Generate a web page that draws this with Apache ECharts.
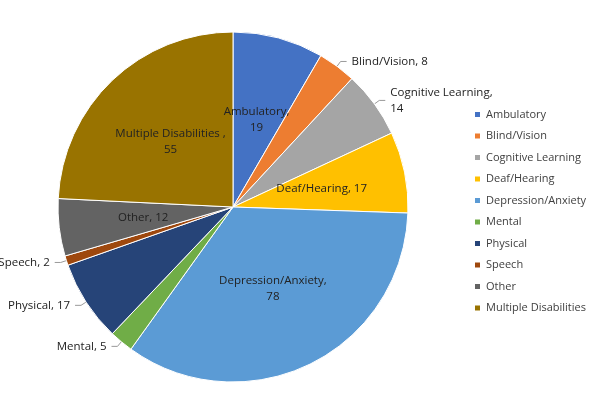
<!DOCTYPE html>
<html><head><meta charset="utf-8">
<script src="https://cdn.jsdelivr.net/npm/echarts@6/dist/echarts.min.js"></script>
<style>html,body{margin:0;padding:0;background:#fff}#c{width:600px;height:415px}</style>
</head><body><div id="c"></div>
<script>
const categories=['Ambulatory','Blind/Vision','Cognitive Learning','Deaf/Hearing','Depression/Anxiety','Mental','Physical','Speech','Other','Multiple Disabilities'];
const values=[19,8,14,17,78,5,17,2,12,55];
const labelTexts=['Ambulatory,\n19','Blind/Vision, 8','Cognitive Learning,\n14','Deaf/Hearing, 17','Depression/Anxiety,\n78','Mental, 5','Physical, 17','Speech, 2','Other, 12','Multiple Disabilities ,\n55'];
const colors=['#4472C4','#ED7D31','#A5A5A5','#FFC000','#5B9BD5','#70AD47','#264478','#9E480E','#636363','#997300'];
const outside=[1,2,5,6,7];
const data=categories.map((n,i)=>({name:n,value:values[i],itemStyle:{color:colors[i]},
    label:{formatter:labelTexts[i],position:outside.includes(i)?'outside':'inside'}}));
const chart=echarts.init(document.getElementById('c'));
chart.setOption({
  animation:false,
  legend:{orient:'vertical',left:468,top:104,itemWidth:7,itemHeight:7,itemGap:10.5,icon:'rect',
    textStyle:{fontFamily:'Open Sans',fontSize:11,color:'#404040'},data:categories},
  series:[{type:'pie',center:[233,207],radius:[0,175],startAngle:90,clockwise:true,
    itemStyle:{borderColor:'#fff',borderWidth:1},
    label:{fontFamily:'Open Sans',fontSize:11.5,color:'#222',lineHeight:16,align:'center',overflow:'none',width:200},
    labelLayout:{hideOverlap:false},
    labelLine:{show:true,length:6,length2:6,lineStyle:{color:'#999'}},
    data:data}]
});
</script></body></html>
